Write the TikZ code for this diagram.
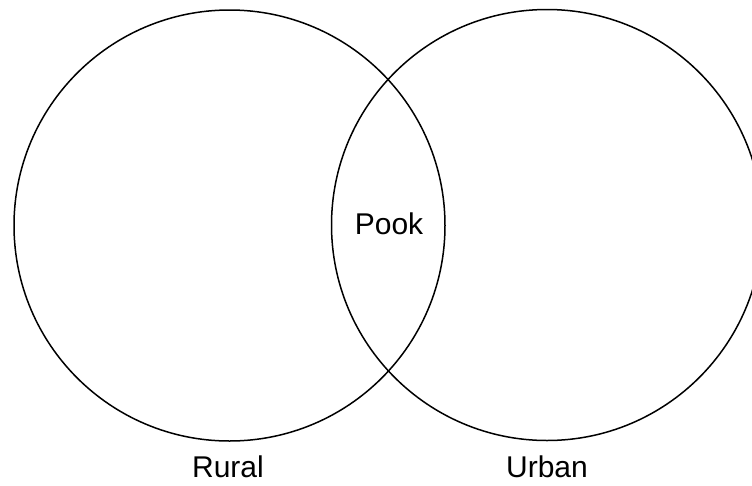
\documentclass[tikz,border=0pt]{standalone}
\usepackage{fontspec}
\setmainfont{Liberation Sans}
\begin{document}
\begin{tikzpicture}[x=1pt,y=-1pt,
  venn/.style={draw=black,line width=1.5pt,circle,minimum size=431pt,inner sep=0pt},
  lbl/.style={font=\fontsize{30}{34}\selectfont,inner sep=0pt,anchor=base}]
\useasboundingbox (0,0) rectangle (752,485);
\begin{scope}
\clip (0,0) rectangle (752,485);
\node[venn] (rural) at (229.5,225.5) {};
\node[venn] (urban) at (547,225) {};
\end{scope}
\node[lbl] (pook) at (389,234) {Pook};
\node[lbl] (rl) at (228,477) {Rural};
\node[lbl] (ul) at (547,477) {Urban};
\end{tikzpicture}
\end{document}
